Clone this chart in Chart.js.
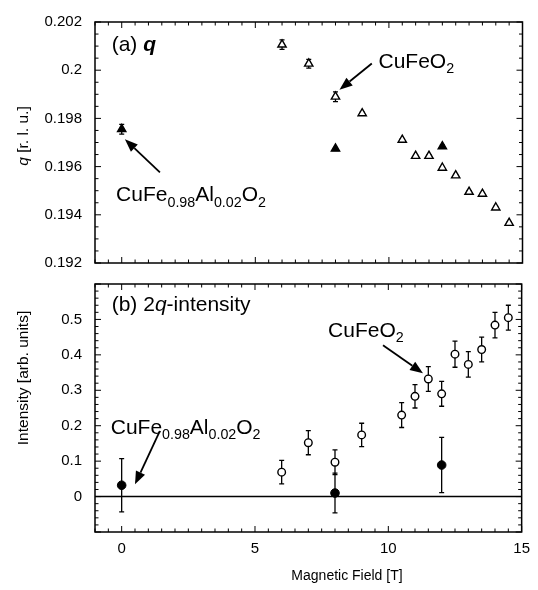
<!DOCTYPE html>
<html>
<head>
<meta charset="utf-8">
<script src="https://cdn.jsdelivr.net/npm/chart.js@4"></script>
<style>
  html, body { margin: 0; padding: 0; background: #fff; }
  #wrap { position: relative; width: 538px; height: 590px; overflow: hidden; }
  #wrap canvas { position: absolute; left: 0; }
  #chartQ { top: 0; }
  #chartI { top: 262px; }
</style>
</head>
<body>
<div id="wrap">
  <canvas id="chartQ" width="538" height="285"></canvas>
  <canvas id="chartI" width="538" height="328"></canvas>
</div>
<script>
// magnetic field values (T)
const fieldPure = [6, 7, 8, 9, 10.5, 11, 11.5, 12, 12.5, 13, 13.5, 14, 14.5];
const fieldAl = [0, 8, 12];

// (a) incommensurate q
const qPure = [0.20106, 0.20027, 0.1989, 0.19821, 0.19711, 0.19644, 0.19644, 0.19595, 0.19563, 0.19495, 0.19487, 0.1943, 0.19366];
const qPureErr = [0.0002, 0.00018, 0.0002, 0.00005, 0.00005, 0.00005, 0.00005, 0.00005, 0.00005, 0.00005, 0.00005, 0.00005, 0.00005];
const qAl = [0.19755, 0.19674, 0.19684];
const qAlErr = [0.0002, 0.00005, 0.00005];

// (b) 2q intensity
const intPure = [0.069, 0.152, 0.097, 0.174, 0.23, 0.283, 0.332, 0.29, 0.402, 0.373, 0.415, 0.484, 0.505];
const intPureErr = [0.033, 0.034, 0.035, 0.033, 0.035, 0.033, 0.035, 0.035, 0.037, 0.036, 0.035, 0.036, 0.035];
const intAl = [0.032, 0.01, 0.089];
const intAlErr = [0.075, 0.056, 0.078];

// tick labels
const xTicks = [0, 5, 10, 15];
const qTicks = [0.192, 0.194, 0.196, 0.198, 0.2, 0.202];
const intTicks = [0, 0.1, 0.2, 0.3, 0.4, 0.5];

const FONT = '"Liberation Sans", Arial, Helvetica, sans-serif';
Chart.defaults.font.family = FONT;
Chart.defaults.color = '#000';

const pts = (xs, ys, es) => xs.map((x, i) => ({ x: x, y: ys[i], err: es[i] }));

// formula text: [text, style] with style n / i / bi / s (subscript)
const cuFeO2 = [['CuFeO', 'n'], ['2', 's']];
const cuFeAl = [['CuFe', 'n'], ['0.98', 's'], ['Al', 'n'], ['0.02', 's'], ['O', 'n'], ['2', 's']];

function setFont(ctx, st, size) {
  const sub = st === 's';
  const fs = sub ? size * 0.68 : size;
  const style = st === 'i' ? 'italic ' : st === 'bi' ? 'italic bold ' : '';
  ctx.font = style + fs + 'px ' + FONT;
}
function runsWidth(ctx, runs, size) {
  let w = 0;
  runs.forEach(([t, st]) => { setFont(ctx, st, size); w += ctx.measureText(t).width; });
  return w;
}
function drawRuns(ctx, runs, x, y, size) {
  let cx = x;
  runs.forEach(([t, st]) => {
    setFont(ctx, st, size);
    ctx.fillText(t, cx, st === 's' ? y + size * 0.25 : y);
    cx += ctx.measureText(t).width;
  });
}

function arrow(ctx, x1, y1, x2, y2) {
  const ang = Math.atan2(y2 - y1, x2 - x1);
  const hl = 13, hw = 5;
  const bx = x2 - hl * Math.cos(ang), by = y2 - hl * Math.sin(ang);
  ctx.beginPath();
  ctx.moveTo(x1, y1);
  ctx.lineTo(bx, by);
  ctx.stroke();
  ctx.beginPath();
  ctx.moveTo(x2, y2);
  ctx.lineTo(bx + hw * Math.sin(ang), by - hw * Math.cos(ang));
  ctx.lineTo(bx - hw * Math.sin(ang), by + hw * Math.cos(ang));
  ctx.closePath();
  ctx.fill();
}

const isMajor = (v, step) => Math.abs(v / step - Math.round(v / step)) < 1e-6;

const errorBars = {
  id: 'errorBars',
  beforeDatasetsDraw(chart) {
    const { ctx, scales: { x, y } } = chart;
    ctx.save();
    ctx.strokeStyle = '#000';
    ctx.lineWidth = 1.3;
    chart.data.datasets.forEach(ds => {
      ds.data.forEach(p => {
        if (!p.err) return;
        const px = x.getPixelForValue(p.x);
        const y1 = y.getPixelForValue(p.y - p.err);
        const y2 = y.getPixelForValue(p.y + p.err);
        ctx.beginPath();
        ctx.moveTo(px, y1); ctx.lineTo(px, y2);
        ctx.moveTo(px - 2.5, y1); ctx.lineTo(px + 2.5, y1);
        ctx.moveTo(px - 2.5, y2); ctx.lineTo(px + 2.5, y2);
        ctx.stroke();
      });
    });
    ctx.restore();
  }
};

const frame = {
  id: 'frame',
  beforeDatasetsDraw(chart, args, o) {
    if (!o.zeroLine) return;
    const { ctx, chartArea: a, scales: { y } } = chart;
    const py = y.getPixelForValue(0);
    ctx.save();
    ctx.strokeStyle = '#000';
    ctx.lineWidth = 1.5;
    ctx.beginPath();
    ctx.moveTo(a.left, py); ctx.lineTo(a.right, py);
    ctx.stroke();
    ctx.restore();
  },
  afterDatasetsDraw(chart, args, o) {
    const { ctx, chartArea: a, scales: { x, y } } = chart;
    ctx.save();
    ctx.strokeStyle = '#000';
    ctx.lineWidth = 1;
    ctx.beginPath();
    for (let v = x.min; v <= x.max + 1e-9; v += o.xMinor) {
      const px = x.getPixelForValue(v);
      const len = isMajor(v, o.xMajor) ? 6 : 3.5;
      ctx.moveTo(px, a.bottom); ctx.lineTo(px, a.bottom - len);
      ctx.moveTo(px, a.top); ctx.lineTo(px, a.top + len);
    }
    const n = Math.round((y.max - y.min) / o.yMinor);
    for (let i = 0; i <= n; i++) {
      const v = y.min + i * o.yMinor;
      const py = y.getPixelForValue(v);
      const len = isMajor(v, o.yMajor) ? 6 : 3.5;
      ctx.moveTo(a.left, py); ctx.lineTo(a.left + len, py);
      ctx.moveTo(a.right, py); ctx.lineTo(a.right - len, py);
    }
    ctx.stroke();
    ctx.lineWidth = 1.5;
    ctx.strokeRect(a.left, a.top, a.right - a.left, a.bottom - a.top);

    // annotations
    ctx.fillStyle = '#000';
    ctx.textBaseline = 'alphabetic';
    ctx.textAlign = 'left';
    drawRuns(ctx, o.panel, a.left + 16.7, a.top + o.panelDy, 21);
    o.texts.forEach(t => drawRuns(ctx, t.runs, x.getPixelForValue(t.x), y.getPixelForValue(t.y), 21));
    ctx.lineWidth = 1.8;
    o.arrows.forEach(r => arrow(ctx,
      x.getPixelForValue(r.from[0]), y.getPixelForValue(r.from[1]),
      x.getPixelForValue(r.to[0]), y.getPixelForValue(r.to[1])));

    // axis titles
    ctx.textBaseline = 'middle';
    const w = runsWidth(ctx, o.yTitle, 15.5);
    ctx.save();
    ctx.translate(a.left - 71, a.top + o.yTitleDy);
    ctx.rotate(-Math.PI / 2);
    drawRuns(ctx, o.yTitle, -w / 2, 0, 15.5);
    ctx.restore();
    if (o.xTitle) {
      const wx = runsWidth(ctx, o.xTitle, 14);
      drawRuns(ctx, o.xTitle, x.getPixelForValue(8.45) - wx / 2, a.bottom + 44, 14);
    }
    ctx.restore();
  }
};

function xScale(show) {
  return {
    type: 'linear', min: -1, max: 15, display: show,
    grid: { display: false, drawTicks: false }, border: { display: false },
    ticks: { font: { size: 15 }, padding: 8 },
    afterBuildTicks: s => { s.ticks = xTicks.map(v => ({ value: v })); },
    afterFit: s => { if (show) s.height = 58; }
  };
}
function yScale(min, max, ticks, digits) {
  return {
    type: 'linear', min: min, max: max,
    grid: { display: false, drawTicks: false }, border: { display: false },
    ticks: { font: { size: 15 }, padding: 13, callback: v => String(+v.toFixed(digits)) },
    afterBuildTicks: s => { s.ticks = ticks.map(v => ({ value: v })); },
    afterFit: s => { s.width = 95; }
  };
}

const common = {
  responsive: false,
  animation: false,
  events: [],
  plugins: { legend: { display: false }, tooltip: { enabled: false } }
};

new Chart(document.getElementById('chartQ'), {
  type: 'scatter',
  data: {
    datasets: [
      { data: pts(fieldPure, qPure, qPureErr), pointStyle: 'triangle', pointRadius: 4.8,
        borderColor: '#000', backgroundColor: '#fff', borderWidth: 1.4 },
      { data: pts(fieldAl, qAl, qAlErr), pointStyle: 'triangle', pointRadius: 4.8,
        borderColor: '#000', backgroundColor: '#000', borderWidth: 1.4 }
    ]
  },
  options: Object.assign({}, common, {
    layout: { padding: { left: 0, right: 15.5, top: 14, bottom: 15 } },
    scales: { x: xScale(false), y: yScale(0.192, 0.202, qTicks, 3) },
    plugins: Object.assign({}, common.plugins, {
      frame: {
        xMinor: 0.5, xMajor: 5, yMinor: 0.0005, yMajor: 0.002,
        panel: [['(a) ', 'n'], ['q', 'bi']], panelDy: 28.5,
        texts: [
          { x: 9.61, y: 0.20009, runs: cuFeO2 },
          { x: -0.21, y: 0.19456, runs: cuFeAl }
        ],
        arrows: [
          { from: [9.36, 0.200275], to: [8.15, 0.19919] },
          { from: [1.43, 0.19576], to: [0.12, 0.19714] }
        ],
        yTitle: [['q', 'i'], [' [r. l. u.]', 'n']], yTitleDy: 114
      }
    })
  }),
  plugins: [errorBars, frame]
});

new Chart(document.getElementById('chartI'), {
  type: 'scatter',
  data: {
    datasets: [
      { data: pts(fieldPure, intPure, intPureErr), pointStyle: 'circle', pointRadius: 3.8,
        borderColor: '#000', backgroundColor: '#fff', borderWidth: 1.4 },
      { data: pts(fieldAl, intAl, intAlErr), pointStyle: 'circle', pointRadius: 4.3,
        borderColor: '#000', backgroundColor: '#000', borderWidth: 1 }
    ]
  },
  options: Object.assign({}, common, {
    layout: { padding: { left: 0, right: 15.5, top: 15, bottom: 0 } },
    scales: { x: xScale(true), y: yScale(-0.1, 0.6, intTicks, 2) },
    plugins: Object.assign({}, common.plugins, {
      frame: {
        zeroLine: true,
        xMinor: 0.5, xMajor: 5, yMinor: 0.02, yMajor: 0.1,
        panel: [['(b) 2', 'n'], ['q', 'i'], ['-intensity', 'n']], panelDy: 27.3,
        texts: [
          { x: 7.74, y: 0.45, runs: cuFeO2 },
          { x: -0.41, y: 0.178, runs: cuFeAl }
        ],
        arrows: [
          { from: [9.8, 0.427], to: [11.3, 0.348] },
          { from: [1.43, 0.185], to: [0.5, 0.0345] }
        ],
        yTitle: [['Intensity [arb. units]', 'n']], yTitleDy: 94,
        xTitle: [['Magnetic Field [T]', 'n']]
      }
    })
  }),
  plugins: [errorBars, frame]
});
</script>
</body>
</html>
